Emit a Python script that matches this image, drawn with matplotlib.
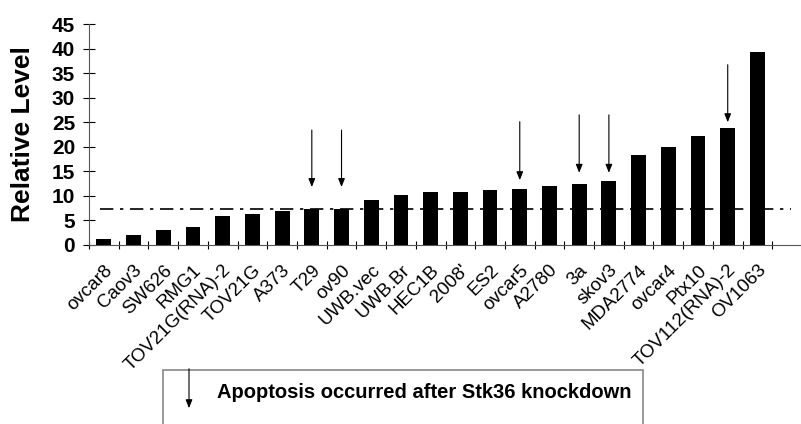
import matplotlib
matplotlib.use("Agg")
import matplotlib.pyplot as plt
from matplotlib.patches import Rectangle, FancyArrowPatch
import numpy as np

lineas = ["ovcar8", "Caov3", "SW626", "RMG1", "TOV21G(RNA)-2", "TOV21G", "A373",
          "T29", "ov90", "UWB.vec", "UWB.Br", "HEC1B", "2008'", "ES2", "ovcar5",
          "A2780", "3a", "skov3", "MDA2774", "ovcar4", "Ptx10", "TOV112(RNA)-2", "OV1063"]
niveis = [1.2, 2.0, 3.0, 3.7, 6.0, 6.4, 6.9, 7.4, 7.4, 9.2, 10.2, 10.7, 10.8, 11.3,
          11.5, 12.1, 12.4, 13.0, 18.3, 20.0, 22.2, 23.8, 39.2]
limiar = 7.3

# setas: linha com apoptose, inicio e ponta (valores do eixo y)
setas_linha = ["T29", "ov90", "ovcar5", "3a", "skov3", "TOV112(RNA)-2"]
setas_inicio = [23.4, 23.4, 25.1, 26.5, 26.5, 36.7]
setas_ponta = [11.8, 11.8, 13.2, 14.7, 14.7, 25.0]

plt.rcParams['font.family'] = ['Liberation Sans', 'DejaVu Sans']

fig = plt.figure(figsize=(8.01, 4.24), dpi=100)
ax = fig.add_axes([89/801, 1 - 245/424, 713/801, 221/424])

x = np.arange(len(lineas))
ax.bar(x, niveis, width=0.5, color='black', zorder=3)

ax.axhline(limiar, xmin=0.015, xmax=0.985, color='black', lw=1.2,
           dashes=[8, 4, 2, 4], zorder=2)

for nome, y0, y1 in zip(setas_linha, setas_inicio, setas_ponta):
    i = lineas.index(nome)
    ax.annotate("", xy=(i, y1), xytext=(i, y0),
                arrowprops=dict(arrowstyle='-|>,head_length=0.5,head_width=0.2',
                                color='black', lw=0.8, shrinkA=0, shrinkB=0))

ax.set_xlim(-0.5, 23.5)
ax.set_ylim(0, 45)
ax.set_yticks(range(0, 46, 5))
ax.set_xticks(x)
ax.set_xticklabels(lineas, rotation=45, ha='right', rotation_mode='anchor', fontsize=13.5)
ax.set_xticks(np.arange(-0.5, 24, 1), minor=True)
ax.tick_params(axis='x', which='major', length=0, pad=12)
ax.tick_params(axis='x', which='minor', direction='inout', length=6, width=0.8)
ax.tick_params(axis='y', direction='inout', length=8, width=0.8, labelsize=15, pad=6)
for t in ax.get_yticklabels():
    t.set_fontweight('bold')

ax.spines['top'].set_visible(False)
ax.spines['right'].set_visible(False)
ax.spines['left'].set_color('#555555')
ax.spines['bottom'].set_color('#555555')
ax.set_ylabel("Relative Level", fontsize=19, fontweight='bold', labelpad=12)

# legenda
caixa = Rectangle((163/801, 1 - 440/424), (643-163)/801, (440-370)/424,
                  transform=fig.transFigure, facecolor='white', edgecolor='#888888',
                  lw=1.2, clip_on=False)
fig.patches.append(caixa)
seta_leg = FancyArrowPatch((189/801, 1 - 366/424), (189/801, 1 - 411/424),
                           transform=fig.transFigure,
                           arrowstyle='-|>,head_length=5,head_width=2', color='black', lw=0.8)
fig.patches.append(seta_leg)
fig.text(217/801, 1 - 392/424, "Apoptosis occurred after Stk36 knockdown",
         fontsize=14.5, fontweight='bold', va='center', ha='left')

fig.savefig("out.png", dpi=100)
